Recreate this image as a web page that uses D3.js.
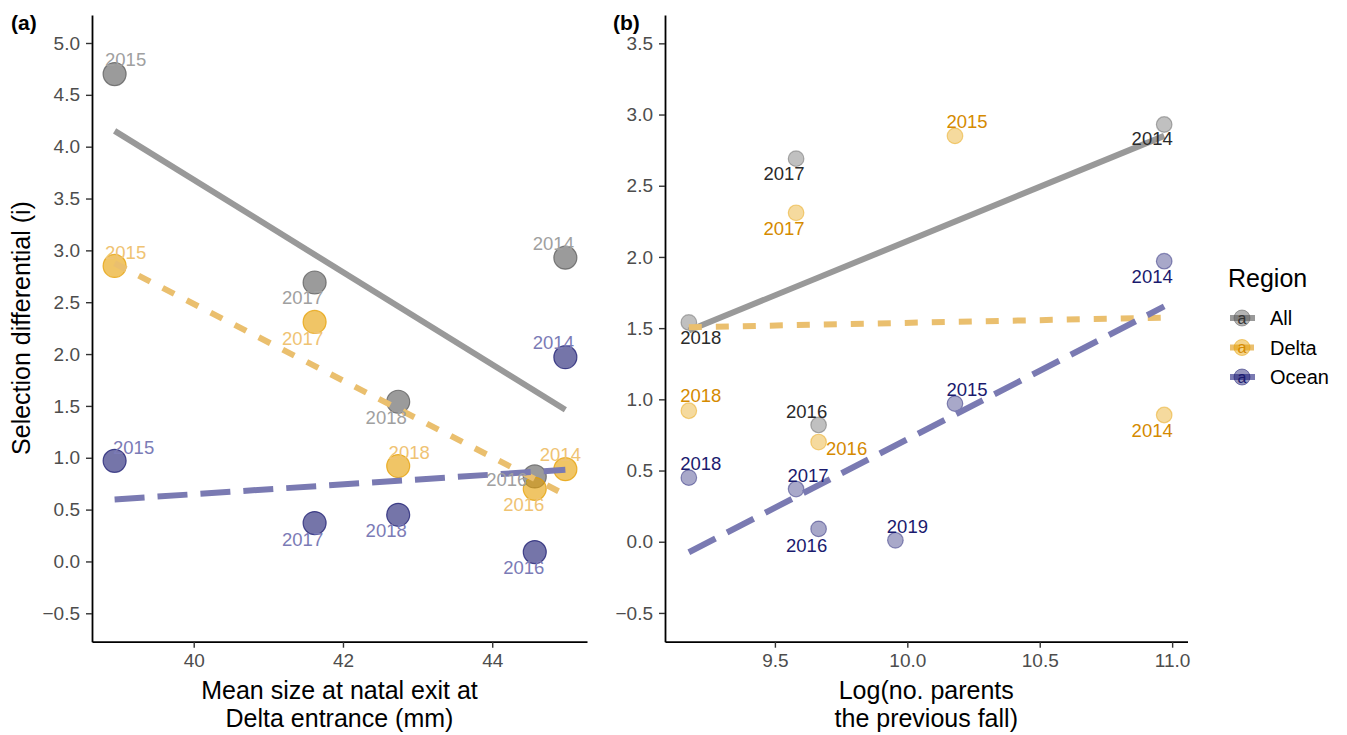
<!DOCTYPE html>
<html>
<head>
<meta charset="utf-8">
<script src="https://cdn.jsdelivr.net/npm/d3@7"></script>
<style>
  body { margin: 0; background: #fff; }
  text { font-family: "Liberation Sans", Arial, sans-serif; }
</style>
</head>
<body>
<svg id="chart"></svg>
<script>
// panel (a): mean size at natal exit vs selection differential
const sizeYears = [2014, 2015, 2016, 2017, 2018];
const meanSize = [44.98, 38.94, 44.57, 41.62, 42.74];
const allSelA = [2.93, 4.70, 0.82, 2.69, 1.54];
const deltaSelA = [0.89, 2.85, 0.70, 2.31, 0.92];
const oceanSelA = [1.97, 0.97, 0.09, 0.37, 0.45];

// panel (b): log(no. parents the previous fall)
const parentYears = [2014, 2015, 2016, 2017, 2018, 2019];
const logParents = [10.97, 10.18, 9.665, 9.58, 9.175, 9.955];
const allSelB = [2.93, null, 0.82, 2.69, 1.54, null];
const deltaSelB = [0.89, 2.85, 0.70, 2.31, 0.92, null];
const oceanSelB = [1.97, 0.97, 0.09, 0.37, 0.45, 0.01];

const regions = ["All", "Delta", "Ocean"];
const xTicksA = [40, 42, 44];
const xTicksB = [9.5, 10.0, 10.5, 11.0];
const yTicksA = [-0.5, 0.0, 0.5, 1.0, 1.5, 2.0, 2.5, 3.0, 3.5, 4.0, 4.5, 5.0];
const yTicksB = [-0.5, 0.0, 0.5, 1.0, 1.5, 2.0, 2.5, 3.0, 3.5];

// label nudges (px) so the year tags sit like the original
const nudgeA = {
  All:   {2015: [11, -15], 2017: [-12, 15], 2014: [-12, -14], 2018: [-12, 16], 2016: [-28, 3]},
  Delta: {2015: [11, -14], 2017: [-12, 16], 2018: [11, -14], 2016: [-11, 15], 2014: [-5, -15]},
  Ocean: {2015: [19, -14], 2017: [-12, 16], 2018: [-12, 16], 2016: [-11, 15], 2014: [-12, -15]}
};
const nudgeB = {
  All:   {2014: [-12, 14], 2017: [-12, 15], 2018: [12, 15], 2016: [-12, -14]},
  Delta: {2015: [12, -15], 2017: [-12, 16], 2018: [12, -15], 2016: [28, 6], 2014: [-12, 15]},
  Ocean: {2014: [-12, 15], 2015: [12, -14], 2018: [12, -14], 2017: [12, -14], 2016: [-12, 16], 2019: [12, -14]}
};

const base = {All: "#595959", Delta: "#E69F00", Ocean: "#191970"};
const lineCol = {All: "#999999", Delta: "#EABF6E", Ocean: "#7A7AB2"};
const dashes = {All: null, Delta: "13,14", Ocean: "30,13"};
const textA = {All: "#a0a0a0", Delta: "#EFC373", Ocean: "#7B7BB6"};
const textB = {All: "#2a2a2a", Delta: "#D58A00", Ocean: "#1A1A6E"};

const W = 1347, H = 735;
const svg = d3.select("#chart").attr("width", W).attr("height", H);

function fit(xs, ys) {
  const pts = xs.map((x, i) => [x, ys[i]]).filter(p => p[1] != null);
  const mx = d3.mean(pts, p => p[0]), my = d3.mean(pts, p => p[1]);
  const sxy = d3.sum(pts, p => (p[0] - mx) * (p[1] - my));
  const sxx = d3.sum(pts, p => (p[0] - mx) ** 2);
  const b = sxy / sxx, a = my - b * mx;
  const [x0, x1] = d3.extent(pts, p => p[0]);
  return [[x0, a + b * x0], [x1, a + b * x1]];
}

function panel(opt) {
  const x = d3.scaleLinear().domain(opt.xDom).range(opt.xRange);
  const y = d3.scaleLinear().domain(opt.yDom).range([641.7, 15]);
  const g = svg.append("g");

  const yAxis = g.append("g").attr("transform", `translate(${opt.xRange[0]},0)`)
    .call(d3.axisLeft(y).tickValues(opt.yTicks).tickFormat(d3.format(".1f")).tickSize(6).tickSizeOuter(0).tickPadding(6));
  const xAxis = g.append("g").attr("transform", "translate(0,641.7)")
    .call(d3.axisBottom(x).tickValues(opt.xTicks).tickFormat(opt.xFmt).tickSize(6).tickSizeOuter(0).tickPadding(6));
  [yAxis, xAxis].forEach(ax => {
    ax.select(".domain").attr("stroke", "#000").attr("stroke-width", 1.8);
    ax.selectAll(".tick line").attr("stroke", "#333").attr("stroke-width", 1.4);
    ax.selectAll(".tick text").attr("fill", "#4d4d4d").style("font-size", "19px")
      .style("font-family", "'Liberation Sans', Arial, sans-serif");
  });

  // points
  regions.forEach(r => {
    const ys = opt.series[r];
    const pts = opt.xs.map((v, i) => ({x: v, y: ys[i], year: opt.years[i]})).filter(d => d.y != null);
    g.append("g").selectAll("circle").data(pts).join("circle")
      .attr("cx", d => x(d.x)).attr("cy", d => y(d.y)).attr("r", opt.r)
      .attr("fill", base[r]).attr("fill-opacity", opt.fillOp)
      .attr("stroke", base[r]).attr("stroke-opacity", opt.strokeOp).attr("stroke-width", 1.2);
  });

  // fitted lines
  regions.forEach(r => {
    const seg = fit(opt.xs, opt.series[r]);
    g.append("path").datum(seg)
      .attr("d", d3.line().x(d => x(d[0])).y(d => y(d[1])))
      .attr("fill", "none").attr("stroke", lineCol[r]).attr("stroke-width", 6)
      .attr("stroke-dasharray", dashes[r]);
  });

  // year labels
  regions.forEach(r => {
    const ys = opt.series[r];
    const pts = opt.xs.map((v, i) => ({x: v, y: ys[i], year: opt.years[i]})).filter(d => d.y != null);
    g.append("g").selectAll("text").data(pts).join("text")
      .attr("x", d => x(d.x) + opt.nudge[r][d.year][0])
      .attr("y", d => y(d.y) + opt.nudge[r][d.year][1])
      .attr("dy", "0.36em").attr("text-anchor", "middle")
      .attr("fill", opt.textCol[r]).style("font-size", "18.5px")
      .text(d => d.year);
  });

  // axis title
  const cx = (opt.xRange[0] + opt.xRange[1]) / 2;
  opt.xTitle.forEach((t, i) => {
    g.append("text").attr("x", cx).attr("y", 699 + i * 28).attr("text-anchor", "middle")
      .style("font-size", "25px").attr("fill", "#000").text(t);
  });
  g.append("text").attr("x", opt.tagX).attr("y", 30).style("font-size", "21px")
    .style("font-weight", "bold").text(opt.tag);
}

panel({
  xDom: [38.637, 45.27], xRange: [92, 587], yDom: [-0.774, 5.27],
  xTicks: xTicksA, yTicks: yTicksA, xFmt: d3.format("d"),
  xs: meanSize, years: sizeYears,
  series: {All: allSelA, Delta: deltaSelA, Ocean: oceanSelA},
  r: 11.5, fillOp: 0.6, strokeOp: 0.75, textCol: textA, nudge: nudgeA,
  xTitle: ["Mean size at natal exit at", "Delta entrance (mm)"], tag: "(a)", tagX: 11
});

panel({
  xDom: [9.085, 11.058], xRange: [665, 1187.5], yDom: [-0.702, 3.699],
  xTicks: xTicksB, yTicks: yTicksB, xFmt: d3.format(".1f"),
  xs: logParents, years: parentYears,
  series: {All: allSelB, Delta: deltaSelB, Ocean: oceanSelB},
  r: 7.8, fillOp: 0.38, strokeOp: 0.45, textCol: textB, nudge: nudgeB,
  xTitle: ["Log(no. parents", "the previous fall)"], tag: "(b)", tagX: 613
});

// y title
svg.append("text").attr("transform", "translate(30,328) rotate(-90)")
  .attr("text-anchor", "middle").style("font-size", "25px").text("Selection differential (i)");

// legend
const leg = svg.append("g");
leg.append("text").attr("x", 1228).attr("y", 287).style("font-size", "25px").text("Region");
regions.forEach((r, i) => {
  const yy = 318 + i * 29.5;
  leg.append("line").attr("x1", 1230).attr("x2", 1255).attr("y1", yy).attr("y2", yy)
    .attr("stroke", lineCol[r]).attr("stroke-width", 6).attr("stroke-dasharray", r === "Delta" ? "10,4" : null);
  leg.append("circle").attr("cx", 1242).attr("cy", yy).attr("r", 8)
    .attr("fill", base[r]).attr("fill-opacity", 0.45).attr("stroke", base[r]).attr("stroke-opacity", 0.5);
  leg.append("text").attr("x", 1242).attr("y", yy).attr("dy", "0.36em").attr("text-anchor", "middle")
    .style("font-size", "16px").attr("fill", r === "All" ? "#333" : textB[r]).text("a");
  leg.append("text").attr("x", 1270).attr("y", yy).attr("dy", "0.36em")
    .style("font-size", "20px").text(r);
});
</script>
</body>
</html>
